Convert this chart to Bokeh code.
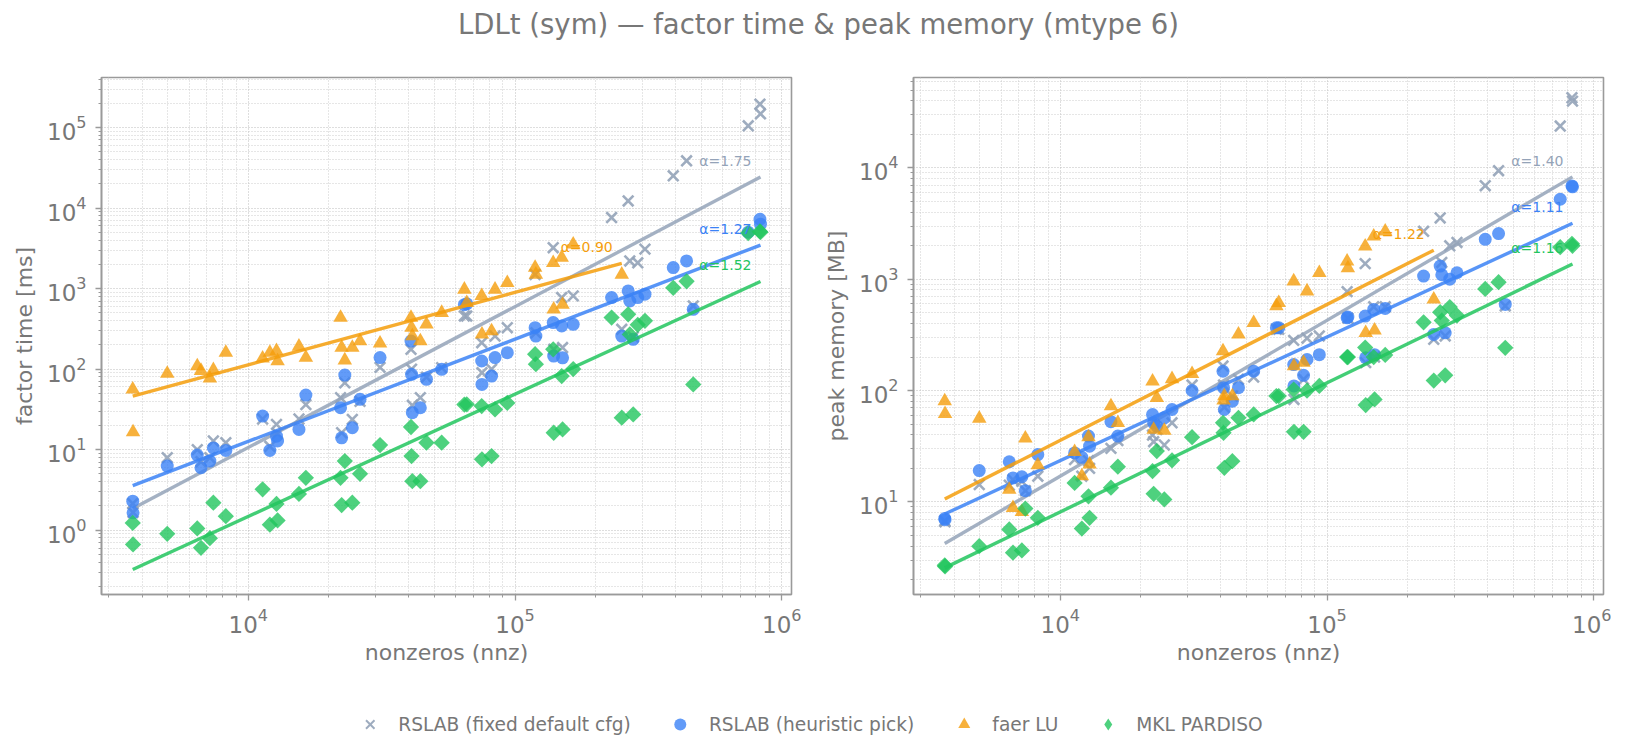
import math
from bokeh.plotting import figure
from bokeh.models import Range1d, FixedTicker, ColumnDataSource, Legend, LegendItem
from bokeh.layouts import column, row
from bokeh.embed import file_html
from bokeh.resources import INLINE
from bokeh.core.properties import value

# ---------------- data ----------------
title = "LDLt (sym) \u2014 factor time & peak memory (mtype 6)"
series_names = ["RSLAB (fixed default cfg)", "RSLAB (heuristic pick)", "faer LU", "MKL PARDISO"]
series_colors = ["#94a3b8", "#3b82f6", "#f59e0b", "#22c55e"]

nnz = [3690, 3700, 4970, 6440, 6650, 7180, 7400, 8240, 11320, 12050,
       12760, 12880, 15490, 16440, 22180, 22390, 23010, 24550, 26240, 31190,
       40740, 40930, 41210, 44160, 46560, 53090, 65920, 64570, 74990, 75160,
       81660, 84140, 93540, 118900, 119700, 139000, 139600, 149600, 150700, 165200,
       230100, 251200, 265500, 269200, 277300, 288400, 306900, 391700, 439500, 465600,
       748200, 827900, 831800]

time_fixed = [2.14, 1.66, 7.93, 10.0, 7.08, 7.94, 12.8, 12.2, 24.0, 11.0,
              20.6, 15.8, 24.0, 36.3, 44.2, 16.2, 67.6, 23.7, 39.8, 105,
              176, 100, 35.5, 44.2, 79.4, 104, 456, 457, 213, 90.2,
              100, 257, 327, 1496, 282, 3221, 176, 773, 185, 811,
              7621, 312, 12250, 2203, 251, 2089, 3090, 25120, 38640, 608,
              105000, 195000, 147900]
time_heur = [2.29, 1.64, 6.24, 8.55, 5.96, 7.21, 10.5, 9.77, 26.1, 9.77,
             14.7, 12.8, 17.8, 47.6, 33.1, 14.0, 84.3, 18.7, 42.1, 139,
             223, 86.1, 28.8, 33.1, 74.6, 99.3, 646, 631, 126, 64.6,
             82.0, 139, 160, 327, 257, 378, 145, 343, 138, 360,
             773, 257, 935, 701, 234, 773, 851, 1820, 2203, 552,
             5012, 7261, 6310]
time_faer = [56.1, 16.5, 87.7, 109, 95.5, 76.7, 97.5, 160, 136, 160,
             168, 126, 191, 139, 436, 185, 129, 185, 223, 209,
             436, 327, 257, 223, 360, 501, 665, 975, 811, 270,
             297, 975, 1178, 1820, 1496, 2089, 553, 2427, 631, 3548,
             None, 1496, None, None, None, None, None, None, None, None,
             None, None, None]
time_pardiso = [1.23, 0.664, 0.90, 1.05, 0.603, 0.794, 2.19, 1.49, 3.21, 1.17,
                2.12, 1.32, 2.82, 4.47, 4.47, 2.05, 7.21, 2.19, 5.01, 11.4,
                19.1, 8.32, 4.05, 4.05, 12.2, 12.2, 36.5, 36.3, 34.7, 7.57,
                8.32, 31.6, 38.0, 153, 115, 176, 16.2, 82.0, 17.8, 100,
                436, 24.9, 479, 269, 27.4, 355, 398, 1023, 1230, 64.6,
                4898, 5129, 5012]

mem_fixed = [6.76, 6.61, 14.3, 14.1, 15.8, 15.3, 12.6, 17.0, 24.0, 17.0,
             23.4, 20.0, 30.2, 35.5, 39.8, 34.7, 44.7, 32.4, 51.3, 112,
             166, 112, 70.8, 89.1, 126, 132, 355, 355, 282, 83.2,
             126, 295, 309, 773, 447, 1380, 178, 565, 200, 565,
             2692, 288, 3548, 1413, 309, 1995, 2138, 6918, 9441, 575,
             23770, 42660, 39810]
mem_heur = [7.08, 6.92, 19.1, 22.9, 16.4, 16.8, 12.6, 26.6, 27.5, 25.1,
            39.0, 31.6, 52.5, 39.0, 60.8, 51.3, 47.9, 56.8, 67.5, 100,
            149, 106, 67.5, 80.2, 106, 149, 366, 366, 171, 110,
            137, 190, 210, 450, 457, 466, 197, 535, 210, 546,
            1067, 319, 1312, 1096, 330, 1000, 1143, 2280, 2570, 593,
            5224, 6887, 6761]
mem_faer = [80.4, 61.8, 56.1, 12.9, 8.83, 8.13, 37.2, 21.4, 28.1, 17.0,
            38.2, 21.7, 72.4, 51.3, 121, 44.6, 85.9, 43.7, 127, 141,
            226, 81.5, 89.1, 89.1, 319, 406, 614, 575, 959, 166,
            178, 780, 1140, 1445, 1259, 1972, 330, 2427, 347, 2692,
            None, 658, None, None, None, None, None, None, None, None,
            None, None, None]
mem_pardiso = [2.69, 2.63, 4.0, 5.65, 3.49, 3.66, 8.71, 7.18, 14.8, 5.75,
               11.2, 7.18, 13.4, 20.7, 18.9, 11.8, 28.6, 10.5, 23.6, 38.1,
               51.3, 41.7, 20.2, 23.2, 56.8, 61.0, 89.1, 89.1, 102, 42.6,
               42.6, 100, 110, 200, 200, 243, 74.0, 200, 83.2, 209,
               410, 123, 505, 425, 137, 562, 471, 818, 940, 242,
               1941, 2080, 1995]

# power-law fits  y = 10**logc * nnz**alpha   (order: fixed, heuristic, faer, pardiso)
time_alpha = [1.75, 1.27, 0.90, 1.52]
time_logc = [-5.974, -3.978, -1.546, -5.910]
mem_alpha = [1.40, 1.11, 1.22, 1.16]
mem_logc = [-4.369, -3.069, -3.327, -3.731]

x_axis_label = "nonzeros (nnz)"
time_label = "factor time [ms]"
mem_label = "peak memory [MB]"

# ---------------- styling ----------------
TEXT = "#777777"
SPINE = "#9a9a9a"
FONT = "DejaVu Sans"
XLO, XHI = 2818.0, 1.087e6
FW, FH = 690, 517

MARKERS = [
    dict(marker="x", size=15, line_width=2.6, line_alpha=0.9),
    dict(marker="circle", size=13, fill_alpha=0.8, line_color=None),
    dict(marker="triangle", size=14.5, fill_alpha=0.8, line_color=None),
    dict(marker="square", angle=math.pi / 4, size=11.5, fill_alpha=0.8, line_color=None),
]


def log_ticks(lo, hi):
    majors = [10.0 ** k for k in range(lo, hi + 1)]
    minors = [m * 10.0 ** k for k in range(lo - 1, hi + 1) for m in range(2, 10)]
    return FixedTicker(ticks=majors, minor_ticks=minors)


def add_scatter(p, i, xs, ys, **over):
    kw = dict(MARKERS[i])
    kw.update(over)
    if i == 0:
        kw["line_color"] = series_colors[i]
    else:
        kw["fill_color"] = series_colors[i]
    return p.scatter(xs, ys, **kw)


def panel(ylabel, ylo, yhi, tlo, thi, series, alphas, logcs, left_border, right_border):
    p = figure(frame_width=FW, frame_height=FH, x_axis_type="log", y_axis_type="log",
               x_range=Range1d(XLO, XHI), y_range=Range1d(ylo, yhi),
               min_border_left=left_border, min_border_right=right_border,
               min_border_top=29, min_border_bottom=72,
               toolbar_location=None, output_backend="svg",
               background_fill_color="white", border_fill_color="white")
    p.xaxis.ticker = log_ticks(4, 6)
    p.yaxis.ticker = log_ticks(tlo, thi)
    p.xaxis.axis_label = x_axis_label
    p.yaxis.axis_label = ylabel
    p.outline_line_color = SPINE
    p.outline_line_width = 1.6
    for ax in p.axis:
        ax.axis_line_color = SPINE
        ax.axis_line_width = 1.6
        ax.major_tick_line_color = SPINE
        ax.minor_tick_line_color = SPINE
        ax.major_tick_line_width = 1.3
        ax.minor_tick_line_width = 1.0
        ax.major_tick_out = 6
        ax.major_tick_in = 0
        ax.minor_tick_out = 3
        ax.minor_tick_in = 0
        ax.major_label_text_font = FONT
        ax.major_label_text_font_size = "23px"
        ax.major_label_text_color = TEXT
        ax.axis_label_text_font = FONT
        ax.axis_label_text_font_size = "22px"
        ax.axis_label_text_color = TEXT
        ax.axis_label_text_font_style = "normal"
    p.xaxis.major_label_standoff = 7
    p.yaxis.major_label_standoff = 9
    p.xaxis.axis_label_standoff = 4
    p.yaxis.axis_label_standoff = 7
    for g in p.grid:
        g.grid_line_color = "#bdbdbd"
        g.grid_line_dash = "1 2"
        g.grid_line_width = 1
        g.minor_grid_line_color = "#cdcdcd"
        g.minor_grid_line_dash = "1 2"
        g.minor_grid_line_width = 1

    decade_px = FH / (math.log10(yhi) - math.log10(ylo))
    lab = dict(x=[], y=[], t=[], c=[])
    for i, ys in enumerate(series):
        pts = [(x, y) for x, y in zip(nnz, ys) if y is not None]
        xs = [a for a, _ in pts]
        add_scatter(p, i, xs, [b for _, b in pts])
        x0, x1 = min(xs), max(xs)
        a, lc = alphas[i], logcs[i]
        fy = [10.0 ** lc * x0 ** a, 10.0 ** lc * x1 ** a]
        p.line([x0, x1], fy, line_color=series_colors[i], line_width=3.4, line_alpha=0.85)
        lab["x"].append(x1 * 0.59)
        lab["y"].append(fy[1] * 10.0 ** (16.0 / decade_px))
        lab["t"].append("\u03b1=%.2f" % a)
        lab["c"].append(series_colors[i])
    p.text("x", "y", text="t", text_color="c", source=ColumnDataSource(lab),
           text_font=value(FONT), text_font_size="14px",
           text_align="left", text_baseline="middle")
    return p


p1 = panel(time_label, 10 ** -0.799, 10 ** 5.621, 0, 5,
           [time_fixed, time_heur, time_faer, time_pardiso], time_alpha, time_logc, 101, 10)
p2 = panel(mem_label, 10 ** 0.1675, 10 ** 4.812, 1, 4,
           [mem_fixed, mem_heur, mem_faer, mem_pardiso], mem_alpha, mem_logc, 112, 8)

# title strip
TH = 48
tf = figure(width=1611, height=TH, x_range=Range1d(0, 1611), y_range=Range1d(0, TH),
            min_border=0, toolbar_location=None, output_backend="svg",
            x_axis_location=None, y_axis_location=None, outline_line_color=None)
tf.grid.visible = False
tf.text(x=[815], y=[TH - 23.8], text=[title], text_font=value(FONT), text_font_size="27.5px",
        text_color=TEXT, text_align="center", text_baseline="middle")

# legend strip (legend renderers hold one point placed outside the visible range)
lf = figure(width=1611, height=77, x_range=Range1d(0, 1), y_range=Range1d(0, 1),
            min_border_left=6, min_border_right=0, min_border_top=37, min_border_bottom=0,
            toolbar_location=None, output_backend="svg",
            x_axis_location=None, y_axis_location=None, outline_line_color=None)
lf.grid.visible = False
rs = [
    add_scatter(lf, 0, [-5.0], [-5.0], size=11, line_width=2.0),
    add_scatter(lf, 1, [-5.0], [-5.0], size=12),
    add_scatter(lf, 2, [-5.0], [-5.0], size=12),
    add_scatter(lf, 3, [-5.0], [-5.0], marker="diamond", angle=0.0, size=17),
]
legend = Legend(items=[LegendItem(label=n, renderers=[r]) for n, r in zip(series_names, rs)],
                orientation="horizontal", location="top_center",
                glyph_width=30, glyph_height=30, label_standoff=14, spacing=34,
                padding=5, margin=0, border_line_alpha=0, background_fill_alpha=0,
                label_text_font=FONT, label_text_font_size="18.6px", label_text_color=TEXT)
lf.add_layout(legend)

layout = column(tf, row(p1, p2), lf)
open("out.html", "w").write(file_html(layout, INLINE))
